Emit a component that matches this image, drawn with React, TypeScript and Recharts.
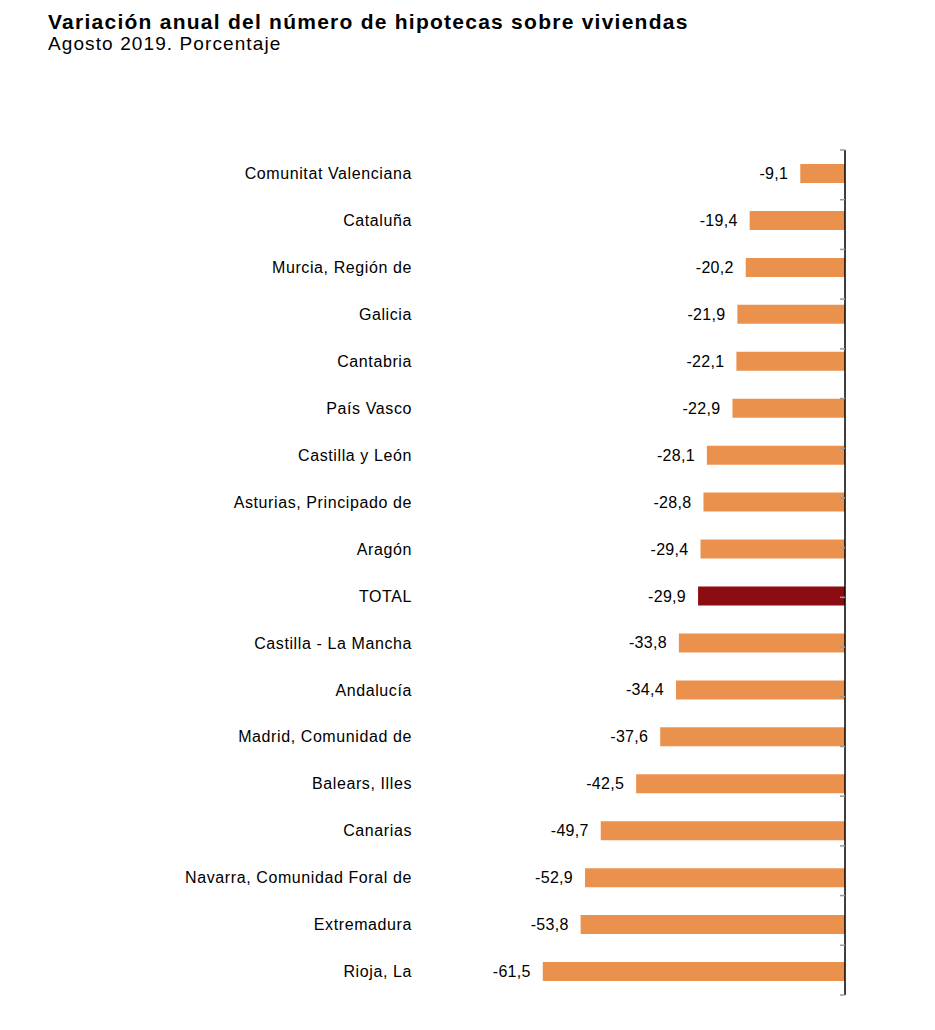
import React from 'react'
import { BarChart, Bar, XAxis, YAxis, Cell, LabelList } from 'recharts'

const regions = [
  'Comunitat Valenciana',
  'Cataluña',
  'Murcia, Región de',
  'Galicia',
  'Cantabria',
  'País Vasco',
  'Castilla y León',
  'Asturias, Principado de',
  'Aragón',
  'TOTAL',
  'Castilla - La Mancha',
  'Andalucía',
  'Madrid, Comunidad de',
  'Balears, Illes',
  'Canarias',
  'Navarra, Comunidad Foral de',
  'Extremadura',
  'Rioja, La',
]

const variation = [
  -9.1, -19.4, -20.2, -21.9, -22.1, -22.9, -28.1, -28.8, -29.4, -29.9, -33.8, -34.4, -37.6, -42.5,
  -49.7, -52.9, -53.8, -61.5,
]

const edgeTicks = [0, 1, 2, 3, 4, 5, 6, 7, 8, 9, 10, 11, 12, 13, 14, 15, 16, 17, 18]

const data = regions.map((name, i) => ({ name, value: variation[i] }))

const FONT = '"Liberation Sans", Arial, sans-serif'

const fmt = (v: number) => v.toFixed(1).replace('.', ',')

const ValueLabel = (props: any) => {
  const { x, y, width, height, value } = props
  const left = Math.min(Number(x), Number(x) + Number(width))
  return (
    <text
      x={left - 12}
      y={Number(y) + Number(height) / 2}
      textAnchor="end"
      dominantBaseline="central"
      fontSize={16}
      fontFamily={FONT}
      letterSpacing={0.3}
      fill="#000"
    >
      {fmt(Number(value))}
    </text>
  )
}

export default function App() {
  return (
    <div style={{ position: 'relative', width: 919, height: 1014, fontFamily: FONT, color: '#000' }}>
      <div
        style={{
          position: 'absolute',
          left: 40,
          top: 3,
          fontSize: 21,
          lineHeight: '21px',
          fontWeight: 'bold',
          letterSpacing: 1.25,
          whiteSpace: 'nowrap',
        }}
      >
        Variación anual del número de hipotecas sobre viviendas
      </div>
      <div
        style={{
          position: 'absolute',
          left: 40,
          top: 26,
          fontSize: 19,
          lineHeight: '19px',
          letterSpacing: 1.1,
          whiteSpace: 'nowrap',
        }}
      >
        Agosto 2019. Porcentaje
      </div>
      <div style={{ position: 'absolute', left: 0, top: 0 }}>
        <BarChart
          width={919}
          height={1014}
          data={data}
          layout="vertical"
          margin={{ top: 142, right: 82, bottom: 27, left: 0 }}
        >
          <XAxis type="number" domain={[-70, 0]} hide />
          <YAxis
            type="category"
            dataKey="name"
            width={493}
            axisLine={false}
            tickLine={false}
            tickSize={0}
            tickMargin={89}
            interval={0}
            tick={{ fontSize: 16, fontFamily: FONT, fill: '#000', letterSpacing: 0.6 }}
          />
          <YAxis
            yAxisId="edge"
            type="number"
            orientation="right"
            mirror
            domain={[0, 18]}
            allowDataOverflow
            ticks={edgeTicks}
            interval={0}
            tickSize={5}
            tickFormatter={() => ''}
            axisLine={{ stroke: '#000', strokeWidth: 1.5 }}
            tickLine={{ stroke: '#9a9a9a', strokeWidth: 1.5 }}
          />
          <Bar dataKey="value" barSize={19} isAnimationActive={false}>
            {data.map((d) => (
              <Cell key={d.name} fill={d.name === 'TOTAL' ? '#8B0D13' : '#EB914E'} />
            ))}
            <LabelList dataKey="value" content={ValueLabel} />
          </Bar>
        </BarChart>
      </div>
    </div>
  )
}
